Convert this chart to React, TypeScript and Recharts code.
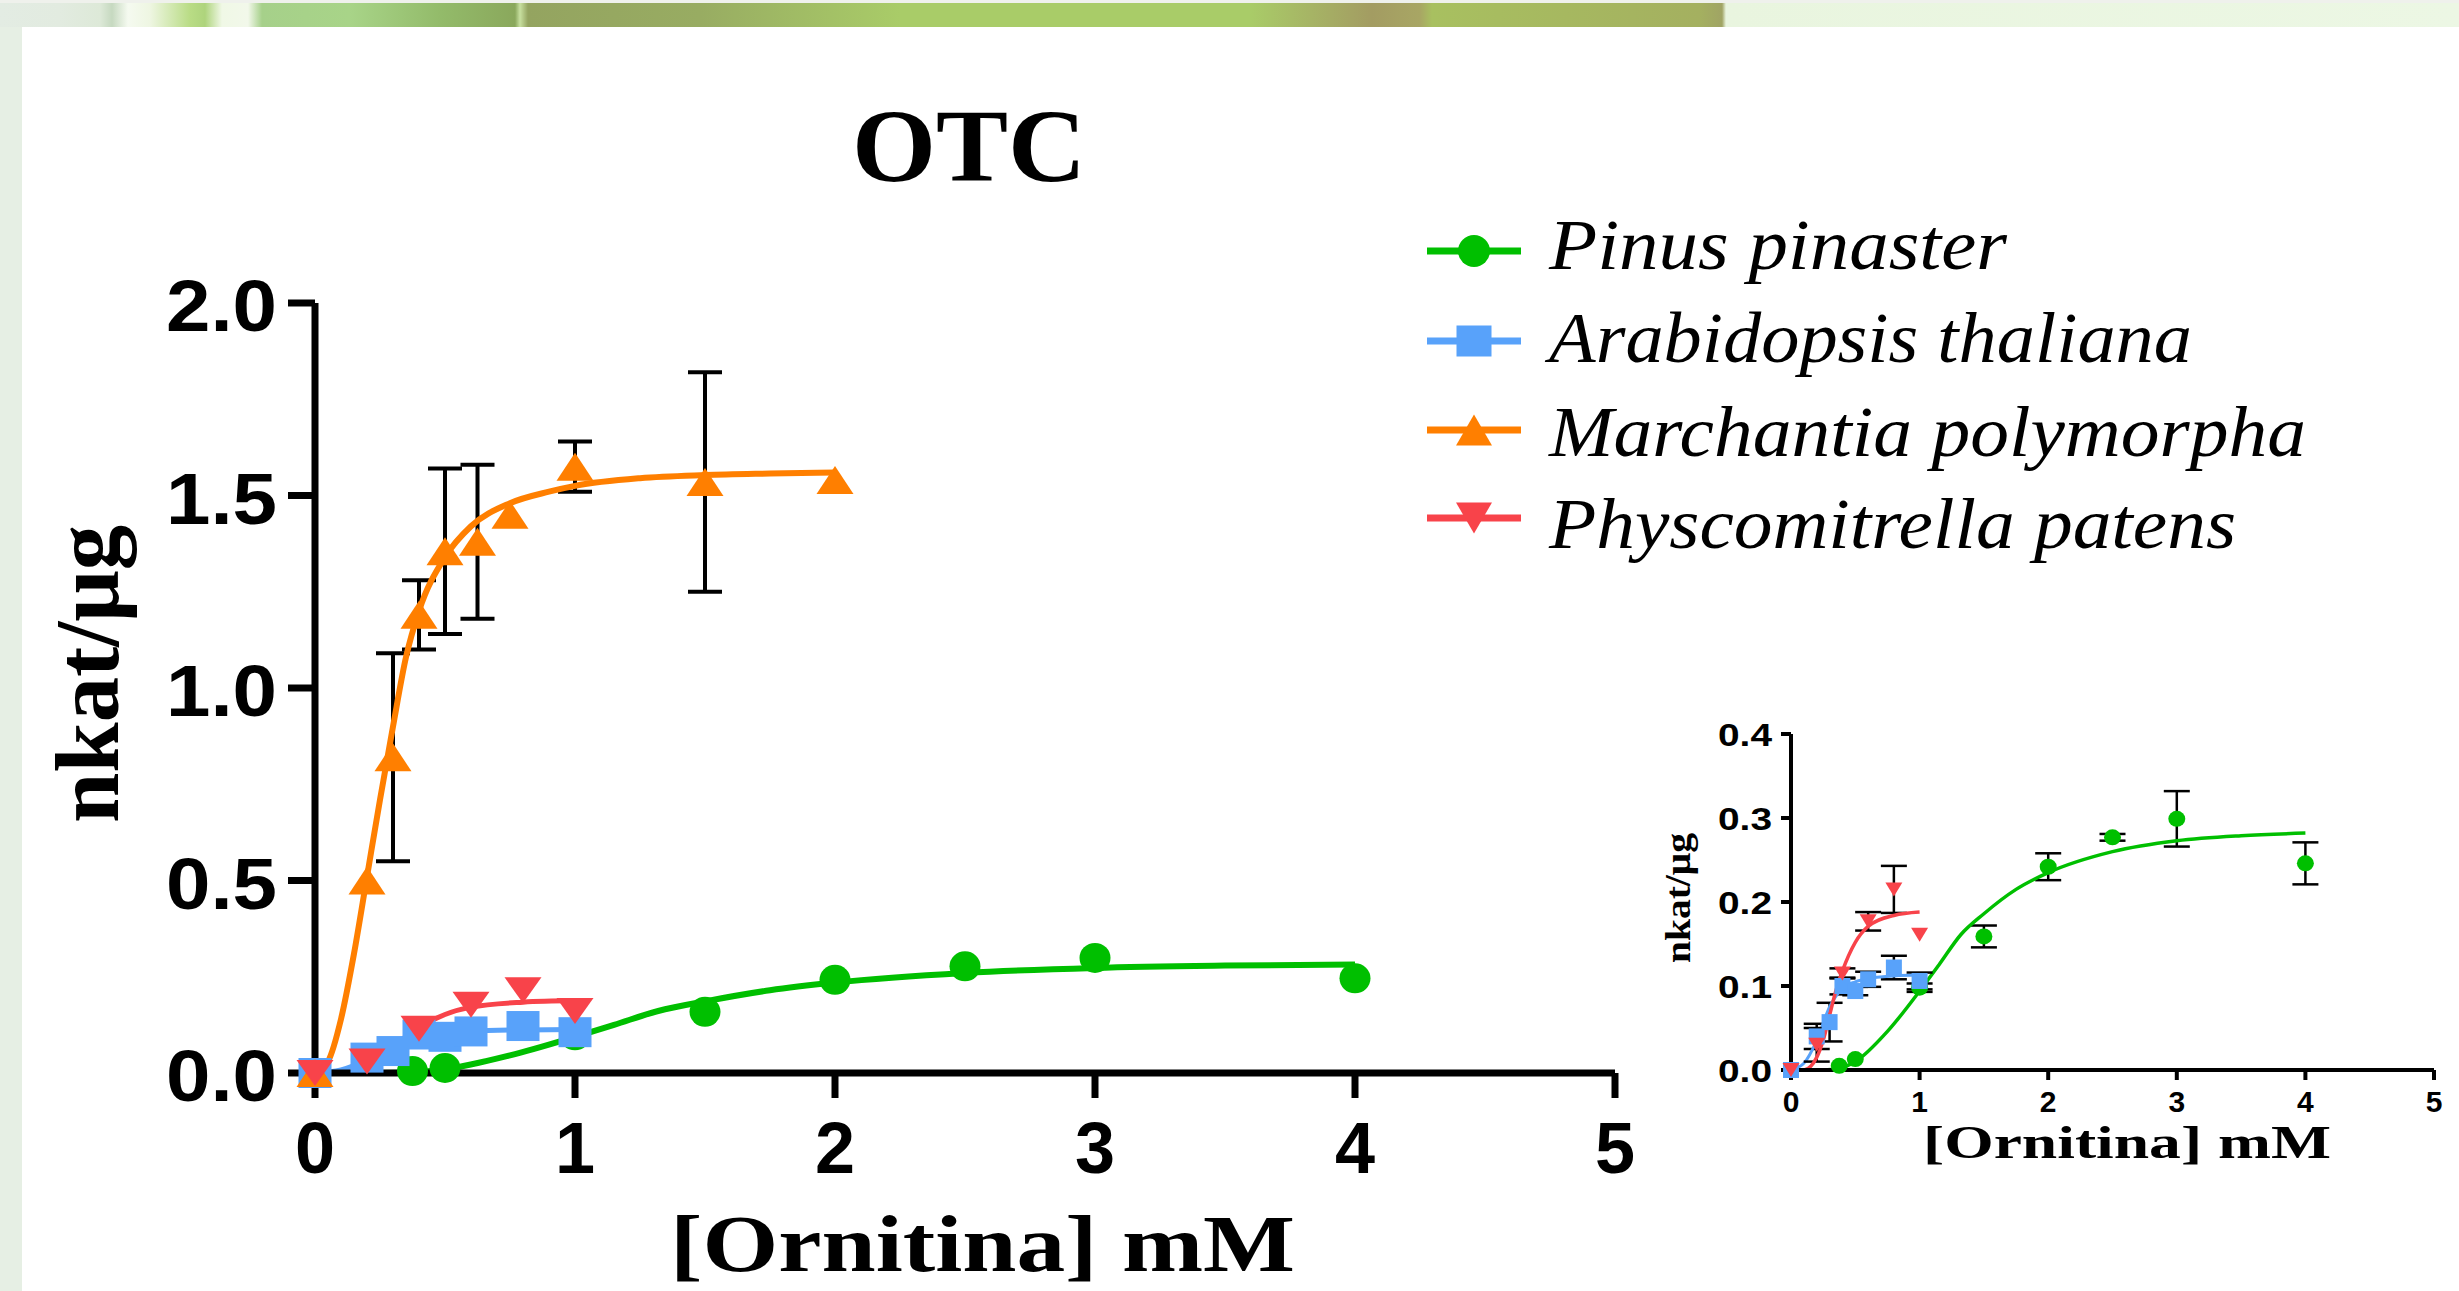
import React from "react";
import { ComposedChart, Line, Scatter, XAxis, YAxis, ErrorBar } from "recharts";

// ---------- data ----------
const seriesNames = ["Pinus pinaster", "Arabidopsis thaliana", "Marchantia polymorpha", "Physcomitrella patens"];
const seriesColors = ["#00BF00", "#58A2FA", "#FF7F00", "#F8434A"];
const seriesShapes = ["circle", "square", "triangle", "invtriangle"];

// Pinus pinaster
const xPinus = [0.375, 0.5, 1, 1.5, 2, 2.5, 3, 4];
const yPinus = [0.005, 0.013, 0.098, 0.159, 0.242, 0.277, 0.299, 0.246];
const errPinus = [0, 0, 0.005, 0.013, 0.016, 0.004, 0.033, 0.025];
const fitXPinus = [0, 0.25, 0.38, 0.5, 0.75, 1, 1.15, 1.32, 1.5, 1.75, 2, 2.5, 3, 3.5, 4];
const fitYPinus = [0, 0, 0.002, 0.01, 0.046, 0.094, 0.125, 0.161, 0.186, 0.215, 0.235, 0.26, 0.273, 0.279, 0.282];

// Arabidopsis thaliana
const xArab = [0, 0.2, 0.3, 0.4, 0.5, 0.6, 0.8, 1.0];
const yArab = [0, 0.04, 0.057, 0.1, 0.094, 0.108, 0.122, 0.106];
const errArab = [0, 0.015, 0.023, 0.01, 0.005, 0.009, 0.014, 0.01];
const fitXArab = [0, 0.1, 0.2, 0.3, 0.4, 0.5, 0.6, 0.8, 1.0];
const fitYArab = [0, 0.008, 0.035, 0.075, 0.097, 0.105, 0.109, 0.112, 0.113];

// Marchantia polymorpha
const xMarch = [0, 0.2, 0.3, 0.4, 0.5, 0.625, 0.75, 1.0, 1.5, 2.0];
const yMarch = [0, 0.5, 0.82, 1.19, 1.355, 1.38, 1.45, 1.575, 1.535, 1.54];
const errMarch = [0, 0, 0.27, 0.09, 0.215, 0.2, 0, 0.065, 0.285, 0];
const fitXMarch = [0, 0.05, 0.1, 0.15, 0.2, 0.25, 0.3, 0.35, 0.4, 0.5, 0.6, 0.75, 0.9, 1.0, 1.25, 1.5, 1.75, 2.0];
const fitYMarch = [0, 0.03, 0.14, 0.31, 0.51, 0.71, 0.9, 1.08, 1.2, 1.34, 1.42, 1.48, 1.51, 1.525, 1.545, 1.553, 1.557, 1.56];

// Physcomitrella patens
const xPhys = [0, 0.2, 0.4, 0.6, 0.8, 1.0];
const yPhys = [0, 0.03, 0.115, 0.177, 0.215, 0.161];
const errPhys = [0, 0.02, 0.006, 0.011, 0.028, 0];
const fitXPhys = [0, 0.1, 0.2, 0.25, 0.3, 0.35, 0.4, 0.5, 0.6, 0.8, 1.0];
const fitYPhys = [0, 0, 0.015, 0.035, 0.065, 0.095, 0.118, 0.152, 0.171, 0.184, 0.188];

// axes
const xTicks = [0, 1, 2, 3, 4, 5];
const mainYTicks = [0, 0.5, 1, 1.5, 2];
const insetYTicks = [0, 0.1, 0.2, 0.3, 0.4];
const titleText = "OTC";
const xLabelText = "[Ornitina] mM";
const yLabelText = "nkat/\u03bcg";

// ---------- tables ----------
const pts = (xs: number[], ys: number[], es: number[]) => xs.map((x, i) => ({ x, y: ys[i], err: es[i] }));
const fit = (xs: number[], ys: number[]) => xs.map((x, i) => ({ x, y: ys[i] }));

const pinusPts = pts(xPinus, yPinus, errPinus);
const arabPts = pts(xArab, yArab, errArab);
const marchPts = pts(xMarch, yMarch, errMarch);
const physPts = pts(xPhys, yPhys, errPhys);
const pinusFit = fit(fitXPinus, fitYPinus);
const arabFit = fit(fitXArab, fitYArab);
const marchFit = fit(fitXMarch, fitYMarch);
const physFit = fit(fitXPhys, fitYPhys);

const SANS = "'Liberation Sans', Arial, sans-serif";
const SERIF = "'Liberation Serif', 'Times New Roman', serif";

function markerEl(kind: string, cx: number, cy: number, w: number, h: number, color: string, key?: any) {
  if (kind === "circle") return <ellipse key={key} cx={cx} cy={cy} rx={w / 2} ry={h / 2} fill={color} />;
  if (kind === "square") return <rect key={key} x={cx - w / 2} y={cy - h / 2} width={w} height={h} fill={color} />;
  if (kind === "triangle")
    return <polygon key={key} points={`${cx - w / 2},${cy + h / 2} ${cx + w / 2},${cy + h / 2} ${cx},${cy - h / 2}`} fill={color} />;
  return <polygon key={key} points={`${cx - w / 2},${cy - h / 2} ${cx + w / 2},${cy - h / 2} ${cx},${cy + h / 2}`} fill={color} />;
}

const makeShape = (kind: string, w: number, h: number, color: string) => (p: any) => {
  if (p == null || p.cx == null || p.cy == null) return <g />;
  return markerEl(kind, p.cx, p.cy, w, h, color);
};

const MainYTick = (props: any) => {
  const { x, y, payload } = props;
  const w = 111;
  return (
    <text x={x - w} y={y + 28} fontFamily={SANS} fontWeight="bold" fontSize={72} fill="#000" textLength={w} lengthAdjust="spacingAndGlyphs">
      {Number(payload.value).toFixed(1)}
    </text>
  );
};
const MainXTick = (props: any) => {
  const { x, y, payload } = props;
  return (
    <text x={x} y={y + 73} textAnchor="middle" fontFamily={SANS} fontWeight="bold" fontSize={72} fill="#000">
      {String(payload.value)}
    </text>
  );
};
const InsetYTick = (props: any) => {
  const { x, y, payload } = props;
  const w = 54;
  return (
    <text x={x - w} y={y + 12} fontFamily={SANS} fontWeight="bold" fontSize={32} fill="#000" textLength={w} lengthAdjust="spacingAndGlyphs">
      {Number(payload.value).toFixed(1)}
    </text>
  );
};
const InsetXTick = (props: any) => {
  const { x, y, payload } = props;
  return (
    <text x={x} y={y + 30} textAnchor="middle" fontFamily={SANS} fontWeight="bold" fontSize={30} fill="#000">
      {String(payload.value)}
    </text>
  );
};

const bannerGradient =
  "linear-gradient(90deg, #e3ece3 0px, #e2ebe0 60px, #dde9d8 100px, #c6d9c0 112px, #f5faf0 128px, #eef6e2 150px, #b9dc85 190px, #aed47c 205px, #f0f8e6 222px, #f2f8ea 248px, #a6d08a 262px, #a8d488 350px, #93bb6a 440px, #8aa85c 515px, #c8e0a0 520px, #94a460 528px, #98ac62 700px, #a9cc68 900px, #a9cc68 1250px, #a39c62 1372px, #a8a664 1420px, #a8c060 1432px, #a4b060 1700px, #a0a464 1722px, #e9f5df 1726px, #ecf7e4 2459px)";

export default function App() {
  const legendLineY = [251, 341, 430, 518];
  const legendBase = [269, 362, 456, 548];
  const legendLen = [458, 643, 757, 687];
  const legendMarker = [
    [32, 32],
    [35, 31],
    [36, 31],
    [36, 31],
  ];
  return (
    <div style={{ position: "absolute", left: 0, top: 0, width: 2459, height: 1291, background: "#fff", overflow: "hidden" }}>
      <div style={{ position: "absolute", left: 0, top: 0, width: 2459, height: 3, background: "#eff1ec" }} />
      <div style={{ position: "absolute", left: 0, top: 3, width: 2459, height: 24, background: bannerGradient }} />
      <div style={{ position: "absolute", left: 0, top: 27, width: 22, height: 1264, background: "#e6efe4" }} />

      {/* main chart */}
      <div style={{ position: "absolute", left: 0, top: 0, width: 1700, height: 1291 }}>
        <ComposedChart width={1700} height={1291} margin={{ top: 303, right: 85, bottom: 118, left: 215 }}>
          <XAxis
            type="number"
            dataKey="x"
            domain={[0, 5]}
            ticks={xTicks}
            interval={0}
            height={100}
            axisLine={{ stroke: "#000", strokeWidth: 7 }}
            tickLine={{ stroke: "#000", strokeWidth: 7 }}
            tickSize={25}
            tickMargin={2}
            tick={<MainXTick />}
          />
          <YAxis
            type="number"
            dataKey="y"
            domain={[0, 2]}
            ticks={mainYTicks}
            interval={0}
            width={100}
            axisLine={{ stroke: "#000", strokeWidth: 7 }}
            tickLine={{ stroke: "#000", strokeWidth: 7 }}
            tickSize={27}
            tickMargin={11}
            tick={<MainYTick />}
          />
          <Line data={pinusFit} dataKey="y" type="monotone" stroke={seriesColors[0]} strokeWidth={6} dot={false} activeDot={false} isAnimationActive={false} />
          <Scatter data={pinusPts} dataKey="y" shape={makeShape("circle", 31, 30, seriesColors[0])} isAnimationActive={false} />
          <Line data={arabFit} dataKey="y" type="monotone" stroke={seriesColors[1]} strokeWidth={5} dot={false} activeDot={false} isAnimationActive={false} />
          <Scatter data={arabPts} dataKey="y" shape={makeShape("square", 33, 30, seriesColors[1])} isAnimationActive={false} />
          <Scatter data={marchPts} dataKey="y" shape={makeShape("triangle", 37, 28, seriesColors[2])} isAnimationActive={false}>
            <ErrorBar dataKey="err" direction="y" width={17} stroke="#000" strokeWidth={4} />
          </Scatter>
          <Line data={marchFit} dataKey="y" type="monotone" stroke={seriesColors[2]} strokeWidth={6} dot={false} activeDot={false} isAnimationActive={false} />
          <Scatter data={physPts} dataKey="y" shape={makeShape("invtriangle", 37, 26, seriesColors[3])} isAnimationActive={false} />
          <Line data={physFit} dataKey="y" type="monotone" stroke={seriesColors[3]} strokeWidth={5} dot={false} activeDot={false} isAnimationActive={false} />
        </ComposedChart>
      </div>

      {/* inset chart */}
      <div style={{ position: "absolute", left: 1600, top: 650, width: 859, height: 641 }}>
        <ComposedChart width={859} height={641} margin={{ top: 84, right: 25, bottom: 181, left: 131 }}>
          <XAxis
            type="number"
            dataKey="x"
            domain={[0, 5]}
            ticks={xTicks}
            interval={0}
            height={40}
            axisLine={{ stroke: "#000", strokeWidth: 4 }}
            tickLine={{ stroke: "#000", strokeWidth: 4 }}
            tickSize={10}
            tickMargin={2}
            tick={<InsetXTick />}
          />
          <YAxis
            type="number"
            dataKey="y"
            domain={[0, 0.4]}
            ticks={insetYTicks}
            interval={0}
            width={60}
            axisLine={{ stroke: "#000", strokeWidth: 4 }}
            tickLine={{ stroke: "#000", strokeWidth: 4 }}
            tickSize={10}
            tickMargin={9}
            tick={<InsetYTick />}
          />
          <Scatter data={pinusPts} dataKey="y" shape={makeShape("circle", 17, 16, seriesColors[0])} isAnimationActive={false}>
            <ErrorBar dataKey="err" direction="y" width={13} stroke="#000" strokeWidth={2.5} />
          </Scatter>
          <Line data={pinusFit} dataKey="y" type="monotone" stroke={seriesColors[0]} strokeWidth={3.5} dot={false} activeDot={false} isAnimationActive={false} />
          <Scatter data={arabPts} dataKey="y" shape={makeShape("square", 16, 16, seriesColors[1])} isAnimationActive={false}>
            <ErrorBar dataKey="err" direction="y" width={13} stroke="#000" strokeWidth={2.5} />
          </Scatter>
          <Line data={arabFit} dataKey="y" type="monotone" stroke={seriesColors[1]} strokeWidth={3} dot={false} activeDot={false} isAnimationActive={false} />
          <Scatter data={physPts} dataKey="y" shape={makeShape("invtriangle", 17, 14, seriesColors[3])} isAnimationActive={false}>
            <ErrorBar dataKey="err" direction="y" width={13} stroke="#000" strokeWidth={2.5} />
          </Scatter>
          <Line data={physFit} dataKey="y" type="monotone" stroke={seriesColors[3]} strokeWidth={3.5} dot={false} activeDot={false} isAnimationActive={false} />
        </ComposedChart>
      </div>

      {/* titles, axis labels, legend */}
      <svg width={2459} height={1291} style={{ position: "absolute", left: 0, top: 0, pointerEvents: "none" }}>
        <text x={852} y={181} fontFamily={SERIF} fontWeight="bold" fontSize={103} fill="#000" textLength={234} lengthAdjust="spacingAndGlyphs">
          {titleText}
        </text>
        <text x={670} y={1271} fontFamily={SERIF} fontWeight="bold" fontSize={80} fill="#000" textLength={625} lengthAdjust="spacingAndGlyphs">
          {xLabelText}
        </text>
        <text
          transform="translate(118,674) rotate(-90)"
          x={-149}
          y={0}
          fontFamily={SERIF}
          fontWeight="bold"
          fontSize={90}
          fill="#000"
          textLength={298}
          lengthAdjust="spacingAndGlyphs"
        >
          {yLabelText}
        </text>
        <text x={1923} y={1158} fontFamily={SERIF} fontWeight="bold" fontSize={46} fill="#000" textLength={408} lengthAdjust="spacingAndGlyphs">
          {xLabelText}
        </text>
        <text
          transform="translate(1690,898) rotate(-90)"
          x={-65}
          y={0}
          fontFamily={SERIF}
          fontWeight="bold"
          fontSize={36}
          fill="#000"
          textLength={130}
          lengthAdjust="spacingAndGlyphs"
        >
          {yLabelText}
        </text>
        {seriesNames.map((name, i) => (
          <g key={name}>
            <line x1={1427} x2={1521} y1={legendLineY[i]} y2={legendLineY[i]} stroke={seriesColors[i]} strokeWidth={7} />
            {markerEl(seriesShapes[i], 1474, legendLineY[i], legendMarker[i][0], legendMarker[i][1], seriesColors[i])}
            <text
              x={1549}
              y={legendBase[i]}
              fontFamily={SERIF}
              fontStyle="italic"
              fontSize={72}
              fill="#000"
              textLength={legendLen[i]}
              lengthAdjust="spacingAndGlyphs"
            >
              {name}
            </text>
          </g>
        ))}
      </svg>
    </div>
  );
}
